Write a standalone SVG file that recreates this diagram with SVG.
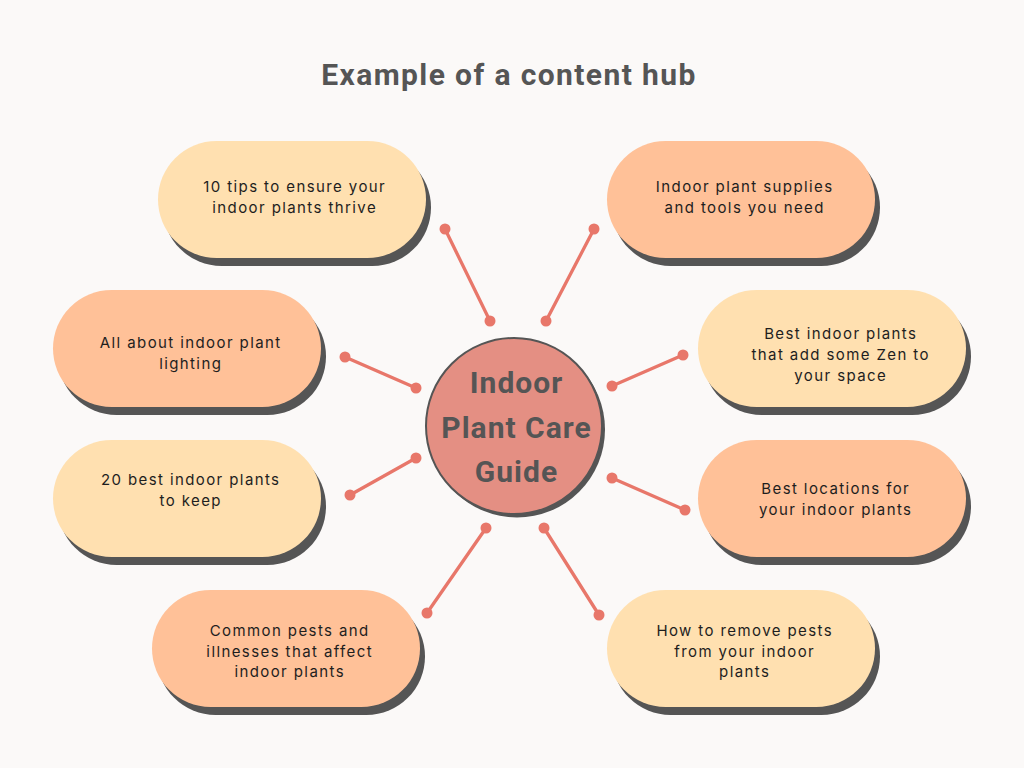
<svg xmlns="http://www.w3.org/2000/svg" width="1024" height="768" viewBox="0 0 1024 768">
<defs>
<style>
.bg{fill:#FBF9F8}
.title{font-family:Roboto,"Liberation Sans",sans-serif;font-weight:700;font-size:30px;letter-spacing:1.4px;fill:#555555;text-anchor:middle}
.hubt{font-family:Roboto,"Liberation Sans",sans-serif;font-weight:700;font-size:30px;letter-spacing:1px;fill:#555555;text-anchor:middle}
.sh{fill:#555555}
.y{fill:#FFE0B0}
.p{fill:#FFC198}
.t{font-family:Inter,"Liberation Sans",sans-serif;font-size:15px;letter-spacing:1.4px;fill:#1E1E1E;text-anchor:middle}
.ln{stroke:#E8776A;stroke-width:3.3;stroke-linecap:round;fill:none}
.dot{fill:#E8776A}
</style>
</defs>
<rect class="bg" x="0" y="0" width="1024" height="768"/>
<text class="title" x="509" y="85">Example of a content hub</text>

<g id="connectors">
<line class="ln" x1="445" y1="229" x2="490" y2="321"/><circle class="dot" cx="445" cy="229" r="5.5"/><circle class="dot" cx="490" cy="321" r="5.5"/>
<line class="ln" x1="594" y1="229" x2="546" y2="321"/><circle class="dot" cx="594" cy="229" r="5.5"/><circle class="dot" cx="546" cy="321" r="5.5"/>
<line class="ln" x1="345" y1="357" x2="416" y2="388"/><circle class="dot" cx="345" cy="357" r="5.5"/><circle class="dot" cx="416" cy="388" r="5.5"/>
<line class="ln" x1="683" y1="355" x2="612" y2="386"/><circle class="dot" cx="683" cy="355" r="5.5"/><circle class="dot" cx="612" cy="386" r="5.5"/>
<line class="ln" x1="416" y1="458" x2="350" y2="495"/><circle class="dot" cx="416" cy="458" r="5.5"/><circle class="dot" cx="350" cy="495" r="5.5"/>
<line class="ln" x1="612" y1="478" x2="685" y2="510"/><circle class="dot" cx="612" cy="478" r="5.5"/><circle class="dot" cx="685" cy="510" r="5.5"/>
<line class="ln" x1="486" y1="528" x2="427" y2="613"/><circle class="dot" cx="486" cy="528" r="5.5"/><circle class="dot" cx="427" cy="613" r="5.5"/>
<line class="ln" x1="544" y1="528" x2="599" y2="615"/><circle class="dot" cx="544" cy="528" r="5.5"/><circle class="dot" cx="599" cy="615" r="5.5"/>
</g>

<g id="hub">
<circle class="sh" cx="517" cy="429.5" r="88"/>
<circle cx="514" cy="426" r="88" fill="#E48F83" stroke="#555555" stroke-width="2"/>
<text class="hubt" x="516.5" y="393">Indoor</text>
<text class="hubt" x="516.5" y="438">Plant Care</text>
<text class="hubt" x="516.5" y="482">Guide</text>
</g>

<g id="n-tips">
<rect class="sh" x="163" y="149" width="268" height="117" rx="58.5"/>
<rect class="y" x="158" y="141" width="268" height="117" rx="58.5"/>
<text class="t" x="294.7" y="192">10 tips to ensure your</text>
<text class="t" x="294.7" y="213">indoor plants thrive</text>
</g>

<g id="n-supplies">
<rect class="sh" x="612" y="149" width="268" height="117" rx="58.5"/>
<rect class="p" x="607" y="141" width="268" height="117" rx="58.5"/>
<text class="t" x="744.7" y="192">Indoor plant supplies</text>
<text class="t" x="744.7" y="213">and tools you need</text>
</g>

<g id="n-lighting">
<rect class="sh" x="58" y="298" width="268" height="117" rx="58.5"/>
<rect class="p" x="53" y="290" width="268" height="117" rx="58.5"/>
<text class="t" x="190.7" y="348">All about indoor plant</text>
<text class="t" x="190.7" y="369">lighting</text>
</g>

<g id="n-zen">
<rect class="sh" x="703" y="298" width="268" height="117" rx="58.5"/>
<rect class="y" x="698" y="290" width="268" height="117" rx="58.5"/>
<text class="t" x="840.7" y="339">Best indoor plants</text>
<text class="t" x="840.7" y="360">that add some Zen to</text>
<text class="t" x="840.7" y="381">your space</text>
</g>

<g id="n-best20">
<rect class="sh" x="58" y="448" width="268" height="117" rx="58.5"/>
<rect class="y" x="53" y="440" width="268" height="117" rx="58.5"/>
<text class="t" x="190.7" y="485">20 best indoor plants</text>
<text class="t" x="190.7" y="506">to keep</text>
</g>

<g id="n-locations">
<rect class="sh" x="703" y="448" width="268" height="117" rx="58.5"/>
<rect class="p" x="698" y="440" width="268" height="117" rx="58.5"/>
<text class="t" x="835.7" y="494">Best locations for</text>
<text class="t" x="835.7" y="515">your indoor plants</text>
</g>

<g id="n-pests">
<rect class="sh" x="157" y="598" width="268" height="117" rx="58.5"/>
<rect class="p" x="152" y="590" width="268" height="117" rx="58.5"/>
<text class="t" x="289.7" y="636">Common pests and</text>
<text class="t" x="289.7" y="657">illnesses that affect</text>
<text class="t" x="289.7" y="677">indoor plants</text>
</g>

<g id="n-remove">
<rect class="sh" x="612" y="598" width="268" height="117" rx="58.5"/>
<rect class="y" x="607" y="590" width="268" height="117" rx="58.5"/>
<text class="t" x="744.7" y="636">How to remove pests</text>
<text class="t" x="744.7" y="657">from your indoor</text>
<text class="t" x="744.7" y="677">plants</text>
</g>
</svg>
